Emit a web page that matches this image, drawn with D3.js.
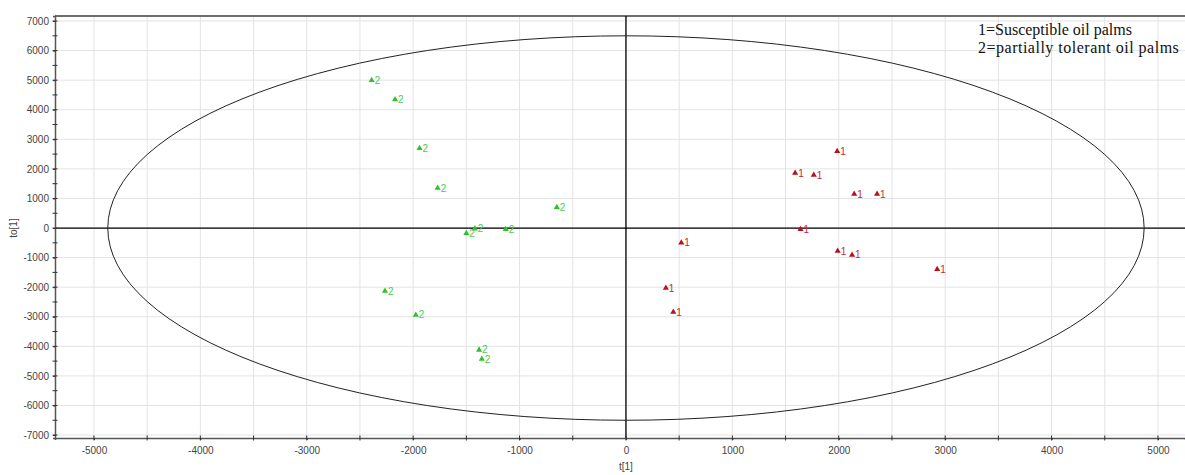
<!DOCTYPE html>
<html>
<head>
<meta charset="utf-8">
<script src="https://cdn.jsdelivr.net/npm/d3@7"></script>
<style>
  html, body { margin: 0; padding: 0; background: #fff; }
  svg { display: block; }
</style>
</head>
<body>
<svg id="chart" width="1185" height="475"></svg>
<script>
// ---- data ----
const group2T = [-2390, -2170, -1940, -1770, -650, -1420, -1500, -1130, -2265, -1975, -1380, -1355];
const group2To = [5000, 4350, 2700, 1350, 700, -20, -180, -40, -2130, -2940, -4120, -4430];
const group1T = [1985, 1590, 1765, 2145, 2360, 1640, 520, 1990, 2125, 2925, 375, 445];
const group1To = [2600, 1860, 1790, 1150, 1150, -40, -500, -780, -910, -1390, -2030, -2840];
const xTickValues = [-5000, -4000, -3000, -2000, -1000, 0, 1000, 2000, 3000, 4000, 5000];
const yTickValues = [-7000, -6000, -5000, -4000, -3000, -2000, -1000, 0, 1000, 2000, 3000, 4000, 5000, 6000, 7000];
const ellipseRadiusT = 4870;
const ellipseRadiusTo = 6500;
const legendLines = ["1=Susceptible oil palms", "2=partially tolerant oil palms"];

(function () {
// ---- layout ----
const svg = d3.select("#chart");
const pLeft = 55, pRight = 1185, pTop = 16, pBottom = 438;
const x = d3.scaleLinear().domain([-5366, 5254]).range([pLeft, pRight]);
const y = d3.scaleLinear().domain([-7100, 7170]).range([pBottom, pTop]);

const xMinor = d3.range(-5000, 5001, 500);
const yMinor = d3.range(-7000, 7001, 500);
const fmt = d => String(d);

// grid
const g = svg.append("g");
g.selectAll(".vg").data(xMinor).enter().append("line")
  .attr("x1", d => x(d)).attr("x2", d => x(d))
  .attr("y1", pTop).attr("y2", pBottom)
  .attr("stroke", "#e3e3e3").attr("stroke-width", 1);
g.selectAll(".hg").data(yTickValues).enter().append("line")
  .attr("x1", pLeft).attr("x2", pRight)
  .attr("y1", d => y(d)).attr("y2", d => y(d))
  .attr("stroke", "#e3e3e3").attr("stroke-width", 1);

// top border
svg.append("line").attr("x1", pLeft).attr("x2", pRight).attr("y1", pTop).attr("y2", pTop)
  .attr("stroke", "#6e6e6e").attr("stroke-width", 2);

// zero lines
svg.append("line").attr("x1", pLeft).attr("x2", pRight).attr("y1", y(0)).attr("y2", y(0))
  .attr("stroke", "#000").attr("stroke-width", 1.3);
svg.append("line").attr("x1", x(0)).attr("x2", x(0)).attr("y1", pTop).attr("y2", pBottom)
  .attr("stroke", "#000").attr("stroke-width", 1.3);

// ellipse
svg.append("ellipse")
  .attr("cx", x(0)).attr("cy", y(0))
  .attr("rx", x(ellipseRadiusT) - x(0))
  .attr("ry", y(0) - y(ellipseRadiusTo))
  .attr("fill", "none").attr("stroke", "#222").attr("stroke-width", 1);

// axes
const xAxis = d3.axisBottom(x).tickValues(xTickValues).tickSize(2).tickPadding(7).tickFormat(fmt);
const yAxis = d3.axisLeft(y).tickValues(yTickValues).tickSize(2).tickPadding(4).tickFormat(fmt);

const xa = svg.append("g").attr("transform", `translate(0,${pBottom})`).call(xAxis);
const ya = svg.append("g").attr("transform", `translate(${pLeft},0)`).call(yAxis);
[xa, ya].forEach(a => {
  a.select(".domain").attr("stroke", "#555").attr("stroke-width", 1.5);
  a.selectAll(".tick line").attr("stroke", "#333");
  a.selectAll(".tick text").attr("fill", "#444").style("font-family", "Liberation Sans, Arial, sans-serif").style("font-size", "10px");
});
// inner tick halves + minor ticks
svg.append("g").selectAll("line").data(xMinor).enter().append("line")
  .attr("x1", d => x(d)).attr("x2", d => x(d))
  .attr("y1", pBottom - 2.5).attr("y2", pBottom + 2.5).attr("stroke", "#333");
svg.append("g").selectAll("line").data(yMinor).enter().append("line")
  .attr("y1", d => y(d)).attr("y2", d => y(d))
  .attr("x1", pLeft - 2.5).attr("x2", pLeft + 2.5).attr("stroke", "#333");

// axis titles
svg.append("text").attr("x", x(0)).attr("y", 470).attr("text-anchor", "middle")
  .style("font-family", "Liberation Sans, Arial, sans-serif").style("font-size", "10px").attr("fill", "#444").text("t[1]");
svg.append("text").attr("transform", `translate(17,${y(0)}) rotate(-90)`).attr("text-anchor", "middle")
  .style("font-family", "Liberation Sans, Arial, sans-serif").style("font-size", "10px").attr("fill", "#444").text("to[1]");

// points
const tri = d3.symbol().type(d3.symbolTriangle).size(16);
function drawGroup(ts, tos, label, markColor, textColor) {
  const data = ts.map((t, i) => ({ t, to: tos[i] }));
  const gg = svg.append("g");
  gg.selectAll("path").data(data).enter().append("path")
    .attr("d", tri)
    .attr("transform", d => `translate(${x(d.t)},${y(d.to)})`)
    .attr("fill", markColor);
  gg.selectAll("text").data(data).enter().append("text")
    .attr("x", d => x(d.t) + 3)
    .attr("y", d => y(d.to) + 3.5)
    .style("font-family", "Liberation Sans, Arial, sans-serif").style("font-size", "10px")
    .attr("fill", textColor).text(label);
}
drawGroup(group2T, group2To, "2", "#2cc22c", "#4ccc4c");
drawGroup(group1T, group1To, "1", "#b8101e", "#c42a36");

// legend
svg.append("g").selectAll("text").data(legendLines).enter().append("text")
  .attr("x", 978).attr("y", (d, i) => 35 + i * 18)
  .style("font-family", "Liberation Serif, Times New Roman, serif").style("font-size", "16px")
  .style("letter-spacing", (d, i) => i === 1 ? "0.5px" : "0px")
  .attr("fill", "#111").text(d => d);
})();
</script>
</body>
</html>
